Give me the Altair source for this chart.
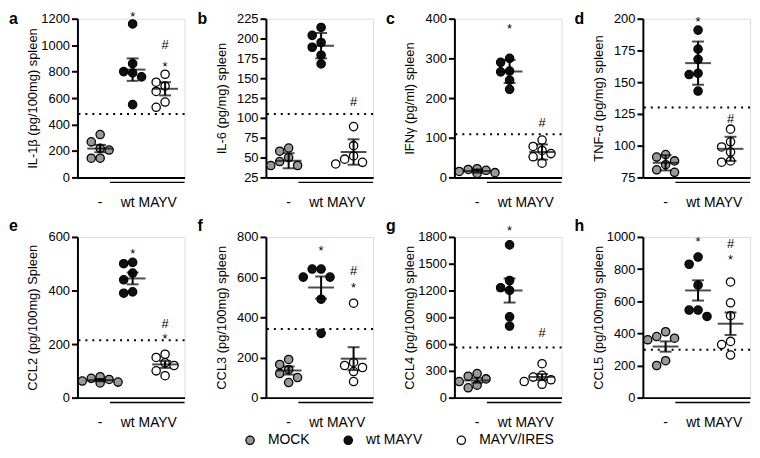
import math
import altair as alt
import pandas as pd

# ---------------- data ----------------
GROUPS = ["MOCK", "wt MAYV", "MAYV/IRES"]
FILLS = ["#999999", "#111111", "#ffffff"]

LETTERS = ["a", "b", "c", "d", "e", "f", "g", "h"]
Y_TITLES = [
    "IL-1β (pg/100mg) spleen",
    "IL-6 (pg/mg) spleen",
    "IFNγ (pg/ml) spleen",
    "TNF-α (pg/mg) spleen",
    "CCL2 (pg/100mg) Spleen",
    "CCL3 (pg/100mg) spleen",
    "CCL4 (pg/100mg) spleen",
    "CCL5 (pg/100mg) spleen",
]
Y_DOMAINS = [(0, 1200), (25, 225), (0, 400), (75, 200), (0, 600), (0, 800), (0, 1800), (0, 1000)]
Y_TICKS = [
    [0, 200, 400, 600, 800, 1000, 1200],
    [25, 50, 75, 100, 125, 150, 175, 200, 225],
    [0, 100, 200, 300, 400],
    [75, 100, 125, 150, 175, 200],
    [0, 200, 400, 600],
    [0, 200, 400, 600, 800],
    [0, 300, 600, 900, 1200, 1500, 1800],
    [0, 200, 400, 600, 800, 1000],
]
THRESHOLDS = [480, 105, 109, 130, 214, 342, 562, 298]

MOCK_VALUES = [
    [324, 269, 220, 207, 145, 145],
    [62, 58, 50, 45, 40, 40],
    [22, 20, 18, 15, 12, 10],
    [93, 91, 88, 85, 81, 79],
    [78, 72, 68, 62, 58, 55],
    [190, 165, 140, 120, 100, 75],
    [270, 240, 210, 180, 140, 110],
    [410, 380, 370, 360, 230, 200],
]
WT_VALUES = [
    [1160, 860, 800, 790, 760, 550],
    [214, 204, 195, 189, 179, 168],
    [300, 290, 268, 266, 245, 222],
    [191, 176, 168, 157, 156, 143],
    [505, 500, 465, 440, 395, 390],
    [640, 640, 600, 600, 490, 320],
    [1711, 1312, 1231, 1201, 905, 802],
    [875, 830, 700, 545, 545, 505],
]
IRES_VALUES = [
    [780, 720, 690, 650, 570, 530],
    [89, 65, 52, 48, 44, 42],
    [94, 78, 68, 60, 52, 36],
    [113, 103, 99, 95, 88, 87],
    [162, 150, 130, 120, 100, 82],
    [470, 175, 160, 150, 130, 80],
    [380, 250, 230, 200, 180, 150],
    [720, 590, 510, 350, 330, 265],
]
# mean and error bar half-length per group (MOCK, wt MAYV, MAYV/IRES)
MEANS = [
    [218, 815, 670], [46, 191, 57], [16, 267, 64], [86.5, 165, 97.5],
    [65, 445, 124], [135, 548, 194], [192, 1200, 232], [318, 667, 460],
]
ERRS = [
    [28, 85, 50], [9.5, 16, 16], [4, 29, 19], [6, 17, 9.5],
    [4, 22, 13], [20, 55, 57], [25, 135, 33], [32, 63, 70],
]
# significance marks: (symbol, group index, y value)
ANNOTATIONS = [
    [("*", 1, 1212), ("#", 2, 998), ("*", 2, 832)],
    [("#", 2, 120)],
    [("*", 1, 375), ("#", 2, 137)],
    [("*", 1, 197), ("#", 2, 121)],
    [("*", 1, 537), ("#", 2, 274), ("*", 2, 219)],
    [("*", 1, 732), ("#", 2, 632), ("*", 2, 548)],
    [("*", 1, 1870), ("#", 2, 721)],
    [("*", 1, 967), ("#", 2, 955), ("*", 2, 854)],
]
X_LABELS = ["-", "wt MAYV"]

# ---------------- layout / style ----------------
FONT = "Liberation Sans"
W = 108
H_TOP = 160
H_BOT = 162
X_MIN, X_MAX = -0.7, 2.6
STEP_PX = 9.0
MIN_DIST_PX = 8.5


def make_panel(i):
    lo, hi = Y_DOMAINS[i]
    H = H_TOP if i < 4 else H_BOT
    ppy = H / (hi - lo)
    ppx = W / (X_MAX - X_MIN)

    rows = []
    for g, vals in enumerate([MOCK_VALUES[i], WT_VALUES[i], IRES_VALUES[i]]):
        placed = []
        for v in sorted(vals, reverse=True):
            dx = 0.0
            for k in [0, -1, 1, -2, 2]:
                cand = k * STEP_PX
                if all(math.hypot(cand - pdx, (v - pv) * ppy) >= MIN_DIST_PX for pdx, pv in placed):
                    dx = cand
                    break
            placed.append((dx, v))
            rows.append({"group": GROUPS[g], "x": g + dx / ppx, "value": v})
    pts = pd.DataFrame(rows)

    summ = pd.DataFrame({
        "group": GROUPS,
        "x": [0, 1, 2],
        "mean": MEANS[i],
        "lo": [m - e for m, e in zip(MEANS[i], ERRS[i])],
        "hi": [m + e for m, e in zip(MEANS[i], ERRS[i])],
    })
    ann = pd.DataFrame([{"s": s, "x": g, "v": v} for s, g, v in ANNOTATIONS[i]])
    xl = pd.DataFrame({"label": X_LABELS, "x": [0, 1.5]})
    bracket = pd.DataFrame({"x1": [1 + X_MIN], "x2": [X_MAX]})
    thr = pd.DataFrame({"t": [THRESHOLDS[i]]})
    letter = pd.DataFrame({"l": [LETTERS[i]]})

    xscale = alt.Scale(domain=[X_MIN, X_MAX], nice=False, zero=False)
    yscale = alt.Scale(domain=[lo, hi], nice=False, zero=False)
    x_axis = alt.Axis(labels=False, ticks=False, title=None, grid=False,
                      domainColor="black", domainWidth=2)
    y_axis = alt.Axis(values=Y_TICKS[i], format="d", title=Y_TITLES[i], grid=False,
                      titleX=-45, titleY=H / 2, titleAngle=270, titleAlign="center",
                      titleBaseline="middle", titleFont=FONT, titleFontSize=13,
                      titleFontWeight="normal", titleColor="black",
                      labelFont=FONT, labelFontSize=13, labelColor="black", labelPadding=2,
                      tickSize=6, tickWidth=2, tickColor="black",
                      domainColor="black", domainWidth=2)
    X = lambda f: alt.X(f, scale=xscale, axis=x_axis)
    Y = lambda f: alt.Y(f, scale=yscale, axis=y_axis)

    threshold = alt.Chart(thr).mark_rule(color="black", strokeWidth=2, strokeDash=[2, 5]).encode(
        y=Y("t:Q"))
    points = alt.Chart(pts).mark_point(shape="circle", filled=True, size=70, stroke="black",
                                       opacity=1, fillOpacity=1).encode(
        x=X("x:Q"), y=Y("value:Q"),
        fill=alt.Fill("group:N", scale=alt.Scale(domain=GROUPS, range=FILLS),
                      legend=alt.Legend(orient="none", legendX=167, legendY=418,
                                        direction="horizontal", title=None, padding=0,
                                        symbolType="circle", symbolSize=70,
                                        symbolStrokeColor="black", symbolStrokeWidth=2,
                                        labelFont=FONT, labelFontSize=14, labelColor="black",
                                        labelOffset=11, columnPadding=32)),
        strokeWidth=alt.StrokeWidth("group:N", scale=alt.Scale(domain=GROUPS, range=[1.3, 1.3, 2.2]),
                                    legend=None),
    )
    errbar = alt.Chart(summ).mark_rule(color="black", strokeWidth=2).encode(
        x=X("x:Q"), y=Y("lo:Q"), y2="hi:Q")
    cap_lo = alt.Chart(summ).mark_tick(color="black", orient="horizontal", size=12, thickness=2).encode(
        x=X("x:Q"), y=Y("lo:Q"))
    cap_hi = alt.Chart(summ).mark_tick(color="black", orient="horizontal", size=12, thickness=2).encode(
        x=X("x:Q"), y=Y("hi:Q"))
    mean = alt.Chart(summ).mark_tick(color="black", orient="horizontal", size=26, thickness=2).encode(
        x=X("x:Q"), y=Y("mean:Q"))
    marks = alt.Chart(ann).mark_text(font=FONT, fontSize=13, color="black", baseline="middle").encode(
        x=X("x:Q"), y=Y("v:Q"), text="s:N")
    xlabels = alt.Chart(xl).mark_text(font=FONT, fontSize=14, color="black", baseline="middle").encode(
        x=X("x:Q"), y=alt.value(H + 26), text="label:N")
    brk = alt.Chart(bracket).mark_rule(color="black", strokeWidth=1.5).encode(
        x=X("x1:Q"), x2="x2:Q", y=alt.value(H + 5))
    lett = alt.Chart(letter).mark_text(font=FONT, fontSize=16, fontWeight="bold", color="black",
                                       align="left", baseline="alphabetic").encode(
        x=alt.value(-69), y=alt.value(5 if i < 4 else -6), text="l:N")

    return alt.layer(threshold, points, errbar, cap_lo, cap_hi, mean, marks, xlabels, brk, lett).properties(
        width=W, height=H)


panels = [make_panel(i) for i in range(8)]
chart = alt.concat(*panels, columns=4, spacing=alt.RowColnumber(row=60, column=82),
                   bounds="flush").properties(
    padding=0, autosize=alt.AutoSizeParams(type="pad")
).configure_view(stroke=None).configure(font=FONT)

chart.save("out.html", embed_options={"renderer": "svg", "actions": False})
